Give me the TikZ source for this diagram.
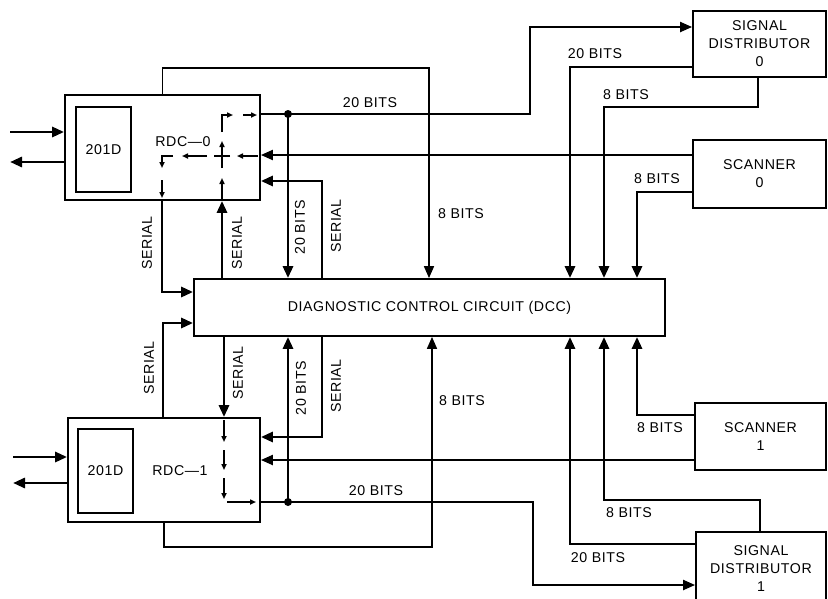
\documentclass[tikz,border=0pt]{standalone}
\usepackage{fontspec}
\setmainfont{Liberation Sans}[LetterSpace=4]
\usetikzlibrary{arrows.meta}
\begin{document}
\begin{tikzpicture}[x=1pt,y=-1pt,
  font=\fontsize{14.2pt}{18pt}\selectfont,
  box/.style={draw, line width=1.8pt, inner sep=0pt, align=center},
  lab/.style={inner sep=0pt},
  rlab/.style={inner sep=0pt, rotate=90},
  thinw/.style={line width=1.7pt},
  medw/.style={line width=2.1pt},
  thickw/.style={line width=2.9pt},
  arr/.style={-{Triangle[length=12pt,width=10pt]}},
  sig/.style={line width=1.5pt, -{Triangle[length=6pt,width=5pt]}},
  sigline/.style={line width=1.5pt},
  dot/.style={circle, fill, inner sep=0pt, minimum size=8pt}]
\useasboundingbox (0,0) rectangle (828,598);

% boxes
\node[box, minimum width=195pt, minimum height=105pt] (rdc0) at (162.5,147.5) {};
\node[box, minimum width=55pt, minimum height=85pt] (b0) at (103.5,149.5) {201D};
\node[lab] (r0l) at (183,142) {RDC---0};
\node[box, minimum width=192pt, minimum height=104pt] (rdc1) at (164,470) {};
\node[box, minimum width=55pt, minimum height=84pt] (b1) at (105.5,471) {201D};
\node[lab] (r1l) at (180,471) {RDC---1};
\node[box, minimum width=471pt, minimum height=57pt] (dcc) at (429.5,307.5) {DIAGNOSTIC CONTROL CIRCUIT (DCC)};
\node[box, minimum width=133pt, minimum height=66pt] (sd0) at (759.5,44) {SIGNAL\\DISTRIBUTOR\\0};
\node[box, minimum width=133pt, minimum height=68pt] (sc0) at (759.5,174) {SCANNER\\0};
\node[box, minimum width=131pt, minimum height=67pt] (sc1) at (760.5,436.5) {SCANNER\\1};
\node[box, minimum width=130pt, minimum height=74pt] (sd1) at (761,569) {SIGNAL\\DISTRIBUTOR\\1};

% junction dots
\node[dot] (j0) at (288,114) {};
\node[dot] (j1) at (288,502) {};

% coordinates
\coordinate (in0) at (10,132);
\coordinate (out0) at (10,162);
\coordinate (in1) at (13,457);
\coordinate (out1) at (13,483);
\coordinate (t8) at (429,68);
\coordinate (c20a) at (530,27);
\coordinate (s0r) at (322,181);
\coordinate (y155) at (0,155);
\coordinate (a1) at (570,67);
\coordinate (a2b) at (758,107);
\coordinate (a2) at (604,107);
\coordinate (a3) at (637,192);
\coordinate (s0a) at (162,292);
\coordinate (s0b) at (222,0);
\coordinate (s1a) at (163,323);
\coordinate (s1b) at (224,0);
\coordinate (s1r) at (322,437);
\coordinate (y460) at (0,460);
\coordinate (c20b) at (533,585);
\coordinate (b8) at (432,547);
\coordinate (a4) at (637,415);
\coordinate (a5b) at (760,500);
\coordinate (a5) at (604,500);
\coordinate (a6) at (570,544);

% left in/out
\draw[thickw,arr] (in0) -- (in0 -| rdc0.west);
\draw[thickw,arr] (out0 -| rdc0.west) -- (out0);
\draw[thickw,arr] (in1) -- (in1 -| rdc1.west);
\draw[thickw,arr] (out1 -| rdc1.west) -- (out1);

% upper connectors
\draw[thinw,arr] (rdc0.north) |- (t8) -- (t8 |- dcc.north);
\draw[medw,arr] (j0 -| rdc0.east) -| (c20a) -- (c20a -| sd0.west);
\draw[thickw,arr] (j0.center) -- (j0 |- dcc.north);
\draw[thickw,arr] (s0r |- dcc.north) -- (s0r) -- (s0r -| rdc0.east);
\draw[medw,arr] (sc0.west |- y155) -- (rdc0.east |- y155);
\draw[thickw,arr] (sd0.west |- a1) -- (a1) -- (a1 |- dcc.north);
\draw[thickw,arr] (a2b |- sd0.south) -- (a2b) -- (a2) -- (a2 |- dcc.north);
\draw[thickw,arr] (sc0.west |- a3) -- (a3) -- (a3 |- dcc.north);
\draw[thickw,arr] (s0a |- rdc0.south) -- (s0a) -- (s0a -| dcc.west);
\draw[thickw,arr] (s0b |- dcc.north) -- (s0b |- rdc0.south);

% lower connectors
\draw[thickw,arr] (s1a |- rdc1.north) -- (s1a) -- (s1a -| dcc.west);
\draw[thickw,arr] (s1b |- dcc.south) -- (s1b |- rdc1.north);
\draw[thickw,arr] (j1.center) -- (j1 |- dcc.south);
\draw[thickw,arr] (s1r |- dcc.south) -- (s1r) -- (s1r -| rdc1.east);
\draw[medw,arr] (sc1.west |- y460) -- (rdc1.east |- y460);
\draw[medw,arr] (j1 -| rdc1.east) -| (c20b) -- (c20b -| sd1.west);
\draw[thinw,arr] (rdc1.south) |- (b8) -- (b8 |- dcc.south);
\draw[thickw,arr] (sc1.west |- a4) -- (a4) -- (a4 |- dcc.south);
\draw[thickw,arr] (a5b |- sd1.north) -- (a5b) -- (a5) -- (a5 |- dcc.south);
\draw[thickw,arr] (sd1.west |- a6) -- (a6) -- (a6 |- dcc.south);

% internal signal paths RDC-0
\draw[sig] (222,199) -- (222,178);
\draw[sig] (222,168) -- (222,141);
\draw[sig] (222,132) -- (222,115) -- (233,115);
\draw[sig] (243,115) -- (257,115);
\draw[sig] (258,156) -- (237,156);
\draw[sigline] (230,156) -- (214,156);
\draw[sig] (207,156) -- (182,156);
\draw[sig] (173,156) -- (162,156) -- (162,168);
\draw[sig] (162,180) -- (162,198);

% internal signal paths RDC-1
\draw[sig] (224,420) -- (224,442);
\draw[sig] (224,450) -- (224,470);
\draw[sig] (224,478) -- (224,499);
\draw[sig] (227,502) -- (256,502);

% labels
\node[lab] (l1) at (370,103) {20 BITS};
\node[lab] (l2) at (461,214) {8 BITS};
\node[rlab] (l3) at (300,227) {20 BITS};
\node[rlab] (l4) at (336,226) {SERIAL};
\node[rlab] (l5) at (147,243) {SERIAL};
\node[rlab] (l6) at (237,243) {SERIAL};
\node[rlab] (l7) at (149,368) {SERIAL};
\node[rlab] (l8) at (238,373) {SERIAL};
\node[rlab] (l9) at (301,388) {20 BITS};
\node[rlab] (l10) at (336,386) {SERIAL};
\node[lab] (l11) at (462,401) {8 BITS};
\node[lab] (l12) at (376,491) {20 BITS};
\node[lab] (l13) at (595,54) {20 BITS};
\node[lab] (l14) at (626,95) {8 BITS};
\node[lab] (l15) at (657,179) {8 BITS};
\node[lab] (l16) at (660,428) {8 BITS};
\node[lab] (l17) at (629,513) {8 BITS};
\node[lab] (l18) at (598,558) {20 BITS};
\end{tikzpicture}
\end{document}
